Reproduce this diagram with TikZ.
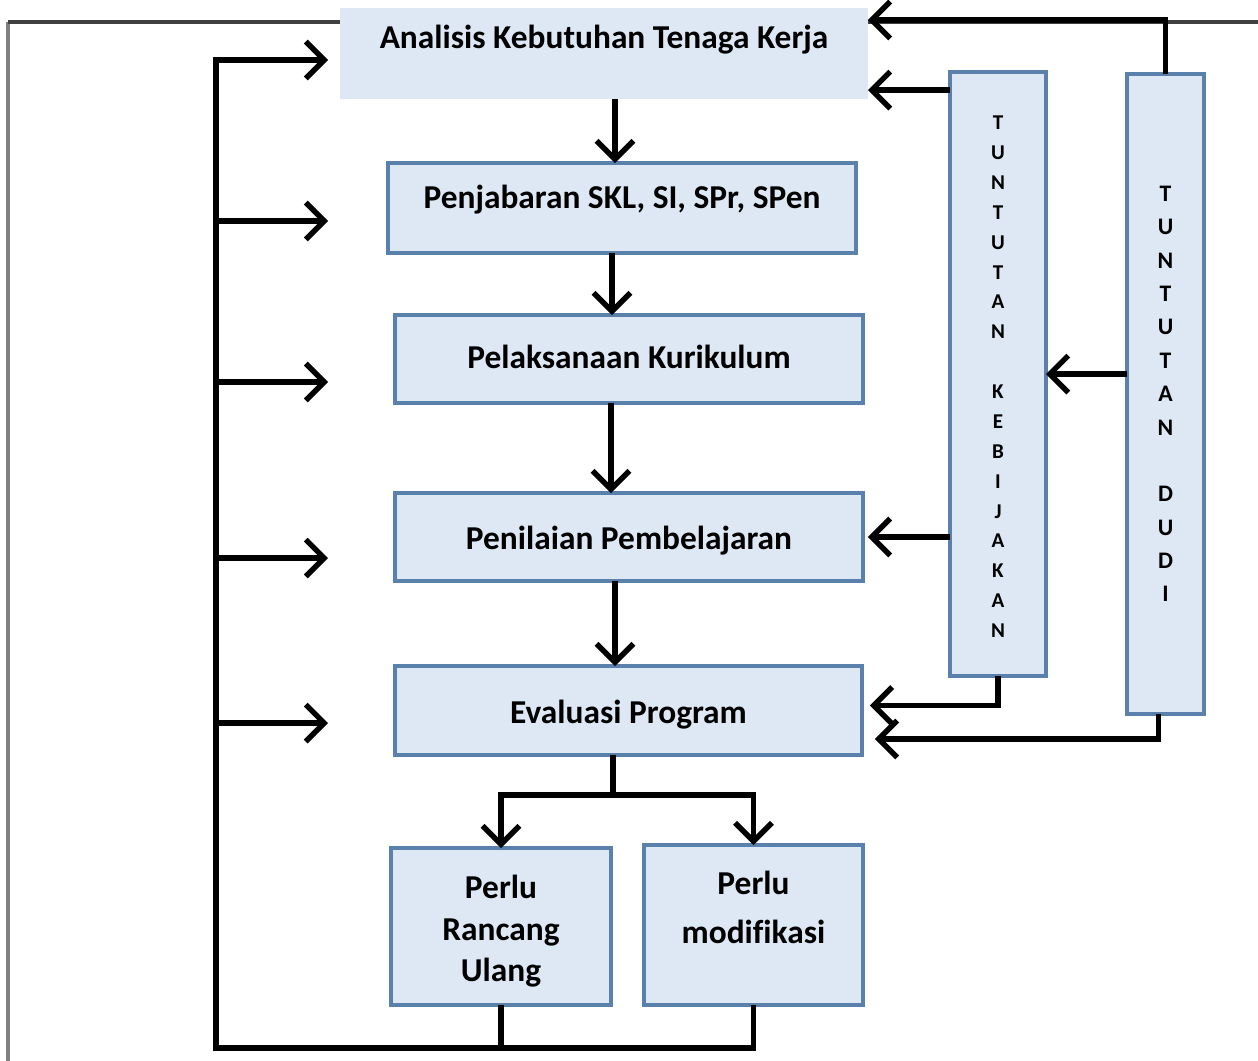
\documentclass[tikz,border=0pt]{standalone}
\usepackage{fontspec}
\setmainfont[Ligatures=NoCommon]{Carlito}
\usetikzlibrary{arrows.meta,calc}
\definecolor{boxfill}{HTML}{DDE8F4}
\definecolor{boxline}{HTML}{5A80AC}
\definecolor{frametop}{HTML}{404040}
\definecolor{frameleft}{HTML}{808080}
% lift a one-line label relative to the box centre
\newcommand\lift[2]{\raisebox{#1}[0pt][0pt]{#2}}
\begin{document}
\begin{tikzpicture}[x=0.02cm,y=-0.02cm,
  box/.style={draw=boxline, line width=1.8pt, fill=boxfill, inner sep=0pt, outer sep=0pt,
              font=\fontsize{19}{23.5}\selectfont\bfseries},
  vbox/.style={box, align=center},
  ln/.style={line width=3.1pt},
  arr/.style={line width=3.1pt, -{Straight Barb[length=10.5pt,width=21pt]}}]

\useasboundingbox (0,0) rectangle (1258,1061);

% outer frame
\draw[frameleft, line width=2pt] (8,1061) -- (8,22);
\draw[frametop, line width=2pt] (8,22) -- (1258,22);

% main column
\node[box, draw=none, minimum width=10.56cm, minimum height=1.82cm] (analisis) at (604,53.5)
  {\lift{0.1cm}{Analisis Kebutuhan Tenaga Kerja}};
\node[box, minimum width=9.36cm, minimum height=1.8cm] (penjab) at (622,208)
  {\lift{0cm}{Penjabaran SKL, SI, SPr, SPen}};
\node[box, minimum width=9.36cm, minimum height=1.76cm] (pelak) at (629,359)
  {\lift{-0.19cm}{Pelaksanaan Kurikulum}};
\node[box, minimum width=9.36cm, minimum height=1.76cm] (penil) at (629,537)
  {\lift{-0.25cm}{Penilaian Pembelajaran}};
\node[box, minimum width=9.34cm, minimum height=1.78cm] (eval) at (628.5,710.5)
  {\lift{-0.26cm}{Evaluasi Program}};
\node[box, align=center, minimum width=4.4cm, minimum height=3.14cm] (rancang) at (501,926.5)
  {\rule{0pt}{18.8pt}Perlu\\Rancang\\Ulang};
\node[box, align=center, minimum width=4.38cm, minimum height=3.2cm,
      font=\fontsize{19}{27.8}\selectfont\bfseries] (modif) at (753.5,925)
  {Perlu\\modifikasi\\[-8pt]~};

% side columns
\node[vbox, minimum width=1.92cm, minimum height=12.08cm,
      font=\fontsize{12}{17}\selectfont\bfseries] (kebij) at (998,374)
  {\rule{0pt}{11pt}T\\U\\N\\T\\U\\T\\A\\N\\~\\K\\E\\B\\I\\J\\A\\K\\A\\N};
\node[vbox, minimum width=1.54cm, minimum height=12.8cm,
      font=\fontsize{13.5}{19}\selectfont\bfseries] (dudi) at (1165.5,394)
  {T\\U\\N\\T\\U\\T\\A\\N\\~\\D\\U\\D\\I};

% downward flow
\coordinate (a1) at ($(analisis.south)+(11,0)$);
\coordinate (a2) at ($(penjab.south)+(-10,0)$);
\coordinate (a3) at ($(pelak.south)+(-18,0)$);
\coordinate (a4) at ($(penil.south)+(-14,0)$);
\coordinate (a5) at ($(eval.south)+(-15.5,0)$);
\coordinate (sp) at ($(a5)+(0,40)$);
\draw[arr] (a1) -- (a1 |- penjab.north);
\draw[arr] (a2) -- (a2 |- pelak.north);
\draw[arr] (a3) -- (a3 |- penil.north);
\draw[arr] (a4) -- (a4 |- eval.north);
\draw[ln] (a5) -- (sp);
\draw[arr] (sp) -| (rancang.north);
\draw[arr] (sp) -| (modif.north);

% feedback bus on the left
\coordinate (bl) at (216,1048);
\coordinate (e1) at (328,60);
\coordinate (e2) at (328,221);
\coordinate (e3) at (328,382);
\coordinate (e4) at (328,558);
\coordinate (e5) at (328,723);
\draw[ln] (rancang.south) -- (rancang.south |- bl);
\draw[arr] (modif.south) |- (bl) |- (e1);
\foreach \e in {e2,e3,e4,e5} \draw[arr] (\e -| bl) -- (\e);

% demands from the right
\coordinate (k1) at ($(kebij.north west)+(0,18)$);
\coordinate (k2) at ($(penil.east)+(5,0)$);
\coordinate (k3) at ($(eval.east)+(8,-5)$);
\draw[arr] (k1) -- (k1 -| analisis.east);
\draw[arr] (kebij.west |- k2) -- (k2);
\draw[arr] (kebij.south) |- (k3);

\coordinate (d0) at ($(analisis.north east)+(0,12)$);
\coordinate (d2) at ($(dudi.south)+(-7,0)$);
\coordinate (d3) at ($(eval.east)+(13,28.5)$);
\draw[arr] (dudi.north) |- (d0);
\draw[arr] (dudi.west |- kebij.east) -- (kebij.east);
\draw[arr] (d2) |- (d3);
\end{tikzpicture}
\end{document}
